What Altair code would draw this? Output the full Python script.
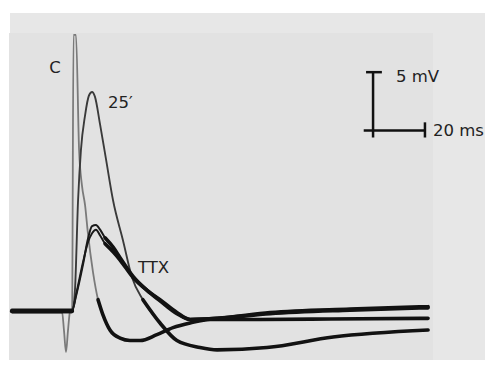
import altair as alt
import pandas as pd

# ---- trace data (time in ms, potential in mV, baseline = 0) ----
c_t = [-23.5, -4.2, -3.4, -2.65, -1.9, -1.1, -0.3, 0.25, 1.2, 2.4, 3.5, 4.7, 5.8, 7.8, 9.7,
       11.6, 14.3, 18.2, 22.0, 25.9, 32.4, 38.6, 45.2, 52.9, 72.1, 99.1, 136.9]
c_v = [0.0, 0.0, -1.7, -3.5, -1.7, 0.0, 0.2, 23.7, 23.7, 13.8, 10.8, 9.1, 6.7, 3.3, 1.0,
       -0.3, -1.6, -2.3, -2.5, -2.5, -2.0, -1.4, -1.0, -0.7, -0.7, -0.65, -0.6]

p25_t = [-23.5, -0.3, 0.8, 2.0, 3.1, 4.7, 6.2, 7.4, 8.5, 10.5, 12.8, 15.5, 19.3, 22.8,
         27.0, 33.6, 40.1, 49.0, 55.6, 74.8, 100.3, 136.9]
p25_v = [0.0, 0.0, 1.8, 9.5, 13.8, 16.8, 18.5, 18.8, 18.4, 16.0, 13.0, 9.5, 6.1, 2.9,
         1.0, -1.0, -2.5, -3.1, -3.3, -3.1, -2.2, -1.6]

ttx_t = [-23.5, -0.3, 1.2, 3.9, 5.8, 7.4, 8.9, 10.5, 12.4, 15.5, 18.2, 23.2, 28.6, 33.6,
         40.1, 45.2, 55.6, 76.0, 106.8, 136.9]
ttx1_v = [0.0, 0.0, 1.4, 4.2, 5.9, 6.7, 7.0, 6.5, 5.8, 5.1, 4.4, 2.9, 1.8, 1.0,
          -0.1, -0.7, -0.6, -0.1, 0.2, 0.4]
ttx2_v = [0.1, 0.1, 1.3, 4.0, 6.2, 7.3, 7.4, 7.0, 6.3, 5.5, 4.6, 3.0, 1.8, 0.9,
          -0.2, -0.7, -0.6, -0.2, 0.1, 0.3]

# index from which each trace is slow (drawn as a heavy noisy band)
series = [("C", c_t, c_v, 14), ("25′", p25_t, p25_v, 14),
          ("TTX a", ttx_t, ttx1_v, 8), ("TTX b", ttx_t, ttx2_v, 8)]
rows, heavy_rows = [], []
for name, ts, vs, slow in series:
    for i, (t, v) in enumerate(zip(ts, vs)):
        rows.append({"trace": name, "t": t, "v": v, "i": i})
        if i <= 1:
            heavy_rows.append({"trace": name + " base", "t": t, "v": v, "i": i})
        if i >= slow:
            heavy_rows.append({"trace": name + " tail", "t": t, "v": v, "i": i})
df = pd.DataFrame(rows)
heavy = pd.DataFrame(heavy_rows)

# labels
lab_text = ["C", "25′", "TTX", "5 mV", "20 ms"]
lab_t = [-6.9, 13.5, 25.1, 124.5, 138.8]
lab_v = [20.9, 17.9, 3.7, 20.1, 15.5]
lab_align = ["center", "left", "left", "left", "left"]
labels = pd.DataFrame({"text": lab_text, "t": lab_t, "v": lab_v, "align": lab_align})

# scale bar: 5 mV vertical, 20 ms horizontal
bar_t = [115.7, 112.1, 113.0, 135.7]
bar_t2 = [115.7, 135.7, 119.1, 135.7]
bar_v = [14.9, 15.5, 20.5, 14.9]
bar_v2 = [20.5, 15.5, 20.5, 16.2]
bars = pd.DataFrame({"t": bar_t, "t2": bar_t2, "v": bar_v, "v2": bar_v2})

W, H = 477, 352
xs = alt.Scale(domain=[-25, -25 + W / 2.5946], nice=False, zero=False)
ys = alt.Scale(domain=[26 - H / 11.667, 26], nice=False, zero=False)

bg_outer = alt.Chart(pd.DataFrame({"a": [0]})).mark_rect(color="#e7e7e7").encode(
    x=alt.value(2), x2=alt.value(W), y=alt.value(5), y2=alt.value(H))
bg_inner = alt.Chart(pd.DataFrame({"a": [0]})).mark_rect(color="#e2e2e2").encode(
    x=alt.value(1), x2=alt.value(425), y=alt.value(25), y2=alt.value(H))

names = ["C", "25′", "TTX a", "TTX b"]
lines = alt.Chart(df).mark_line(interpolate="monotone", strokeJoin="round", strokeCap="round").encode(
    x=alt.X("t:Q", scale=xs, axis=None),
    y=alt.Y("v:Q", scale=ys, axis=None),
    detail="trace:N",
    order="i:Q",
    color=alt.Color("trace:N", legend=None,
                    scale=alt.Scale(domain=names,
                                    range=["#7a7a7a", "#3a3a3a", "#1a1a1a", "#1a1a1a"])),
    strokeWidth=alt.StrokeWidth("trace:N", legend=None,
                                scale=alt.Scale(domain=names, range=[1.8, 2.0, 2.6, 2.2])),
)

heavy_lines = alt.Chart(heavy).mark_line(interpolate="monotone", strokeJoin="round",
                                         strokeCap="round", color="#121212", strokeWidth=3.6).encode(
    x=alt.X("t:Q", scale=xs, axis=None),
    y=alt.Y("v:Q", scale=ys, axis=None),
    detail="trace:N",
    order="i:Q",
)

bar = alt.Chart(bars).mark_rule(color="#111111", strokeWidth=2.5).encode(
    x=alt.X("t:Q", scale=xs, axis=None), x2="t2:Q",
    y=alt.Y("v:Q", scale=ys, axis=None), y2="v2:Q")

txt_c = alt.Chart(labels[labels["align"] == "center"]).mark_text(
    font="DejaVu Sans", fontSize=16.5, color="#222222", align="center", baseline="middle").encode(
    x=alt.X("t:Q", scale=xs, axis=None), y=alt.Y("v:Q", scale=ys, axis=None), text="text:N")
txt_l = alt.Chart(labels[labels["align"] == "left"]).mark_text(
    font="DejaVu Sans", fontSize=16.5, color="#222222", align="left", baseline="middle").encode(
    x=alt.X("t:Q", scale=xs, axis=None), y=alt.Y("v:Q", scale=ys, axis=None), text="text:N")

chart = alt.layer(bg_outer, bg_inner, lines, heavy_lines, bar, txt_c, txt_l).properties(
    width=W, height=H, padding=0, autosize=alt.AutoSizeParams(type="none"), background="white"
).configure_view(stroke=None)

chart.save("out.html", embed_options={"renderer": "svg", "actions": False})
